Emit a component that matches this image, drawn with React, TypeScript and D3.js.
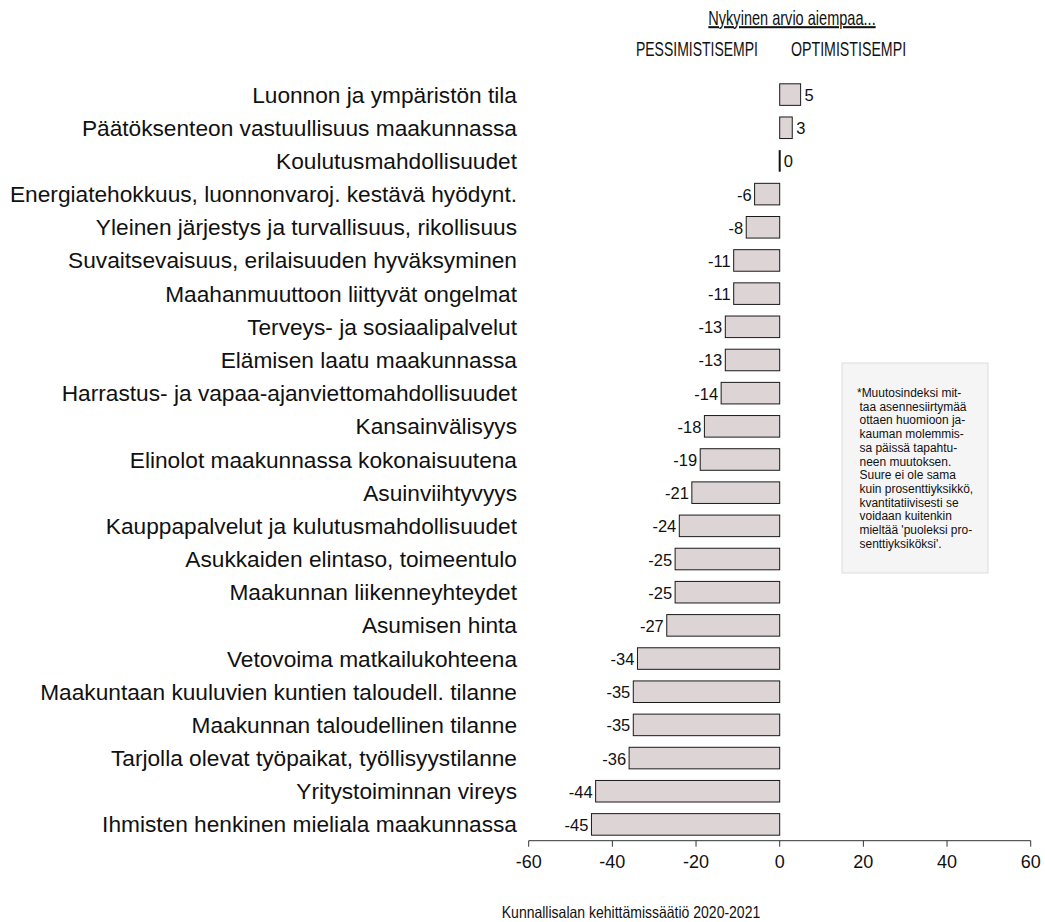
import React from "react";
import * as d3 from "d3";

const categories = [
  "Luonnon ja ympäristön tila",
  "Päätöksenteon vastuullisuus maakunnassa",
  "Koulutusmahdollisuudet",
  "Energiatehokkuus, luonnonvaroj. kestävä hyödynt.",
  "Yleinen järjestys ja turvallisuus, rikollisuus",
  "Suvaitsevaisuus, erilaisuuden hyväksyminen",
  "Maahanmuuttoon liittyvät ongelmat",
  "Terveys- ja sosiaalipalvelut",
  "Elämisen laatu maakunnassa",
  "Harrastus- ja vapaa-ajanviettomahdollisuudet",
  "Kansainvälisyys",
  "Elinolot maakunnassa kokonaisuutena",
  "Asuinviihtyvyys",
  "Kauppapalvelut ja kulutusmahdollisuudet",
  "Asukkaiden elintaso, toimeentulo",
  "Maakunnan liikenneyhteydet",
  "Asumisen hinta",
  "Vetovoima matkailukohteena",
  "Maakuntaan kuuluvien kuntien taloudell. tilanne",
  "Maakunnan taloudellinen tilanne",
  "Tarjolla olevat työpaikat, työllisyystilanne",
  "Yritystoiminnan vireys",
  "Ihmisten henkinen mieliala maakunnassa",
];

const values = [5, 3, 0, -6, -8, -11, -11, -13, -13, -14, -18, -19, -21, -24, -25, -25, -27, -34, -35, -35, -36, -44, -45];

const xTicks = [-60, -40, -20, 0, 20, 40, 60];

const headerTitle = "Nykyinen arvio aiempaa...";
const leftHeader = "PESSIMISTISEMPI";
const rightHeader = "OPTIMISTISEMPI";
const footer = "Kunnallisalan kehittämissäätiö 2020-2021";
const noteLines = [
  "*Muutosindeksi mit-",
  "taa asennesiirtymää",
  "ottaen huomioon ja-",
  "kauman molemmis-",
  "sa päissä tapahtu-",
  "neen muutoksen.",
  "Suure ei ole sama",
  "kuin prosenttiyksikkö,",
  "kvantitatiivisesti se",
  "voidaan kuitenkin",
  "mieltää 'puoleksi pro-",
  "senttiyksiköksi'.",
];

const W = 1045;
const H = 922;
const FONT = "'Liberation Sans', Arial, sans-serif";

function CText(props: {
  x: number;
  y: number;
  sx: number;
  size: number;
  anchor?: "start" | "middle" | "end";
  underline?: boolean;
  children: React.ReactNode;
}) {
  return (
    <text
      transform={`translate(${props.x},${props.y}) scale(${props.sx},1)`}
      textAnchor={props.anchor || "start"}
      fontSize={props.size}
      textDecoration={props.underline ? "underline" : undefined}
      fill="#111"
    >
      {props.children}
    </text>
  );
}

export default function App() {
  const x = d3.scaleLinear().domain([-60, 60]).range([528.7, 1030.7]);
  const y = d3
    .scaleBand<string>()
    .domain(categories)
    .range([78, 841])
    .paddingInner(0.35)
    .paddingOuter(0.175);
  const axisY = 840.7;
  const x0 = x(0);

  return (
    <svg
      width={W}
      height={H}
      style={{ position: "absolute", left: 0, top: 0, background: "#fff" }}
      fontFamily={FONT}
    >
      {/* header */}
      <CText x={792} y={25} sx={0.71} size={20.5} anchor="middle" underline>
        {headerTitle}
      </CText>
      <CText x={758} y={56} sx={0.7} size={20} anchor="end">
        {leftHeader}
      </CText>
      <CText x={791} y={56} sx={0.71} size={20} anchor="start">
        {rightHeader}
      </CText>

      {/* bars */}
      {categories.map((c, i) => {
        const v = values[i];
        const yy = y(c)!;
        const bw = y.bandwidth();
        const left = Math.min(x(v), x0);
        const w = Math.abs(x(v) - x0);
        const cy = yy + bw / 2;
        return (
          <g key={c}>
            <text x={517} y={cy + 8} textAnchor="end" fontSize={22.7} fill="#111">
              {c}
            </text>
            {w > 0 ? (
              <rect x={left} y={yy} width={w} height={bw} fill="#ddd4d6" stroke="#1a1a1a" strokeWidth={1} />
            ) : (
              <line x1={x0} x2={x0} y1={yy} y2={yy + bw} stroke="#111" strokeWidth={2} />
            )}
            <text
              x={v >= 0 ? x(v) + 4 : x(v) - 3}
              y={cy + 6.5}
              textAnchor={v >= 0 ? "start" : "end"}
              fontSize={16.5}
              fill="#111"
            >
              {v}
            </text>
          </g>
        );
      })}

      {/* axis */}
      <line x1={x(-60)} x2={x(60)} y1={axisY} y2={axisY} stroke="#333" strokeWidth={1} />
      {xTicks.map((t) => (
        <g key={t}>
          <line x1={x(t)} x2={x(t)} y1={axisY} y2={axisY + 6} stroke="#333" strokeWidth={1} />
          <text x={x(t)} y={868} textAnchor="middle" fontSize={18} fill="#111">
            {t}
          </text>
        </g>
      ))}

      {/* note */}
      <rect x={842} y={363} width={146} height={210} fill="#f5f5f5" stroke="#dddddd" strokeWidth={1} />
      {noteLines.map((l, i) => (
        <CText key={i} x={i === 0 ? 857 : 859.5} y={397 + i * 13.7} sx={0.9} size={13.3}>
          {l}
        </CText>
      ))}

      {/* footer */}
      <CText x={631} y={918} sx={0.86} size={16.3} anchor="middle">
        {footer}
      </CText>
    </svg>
  );
}
